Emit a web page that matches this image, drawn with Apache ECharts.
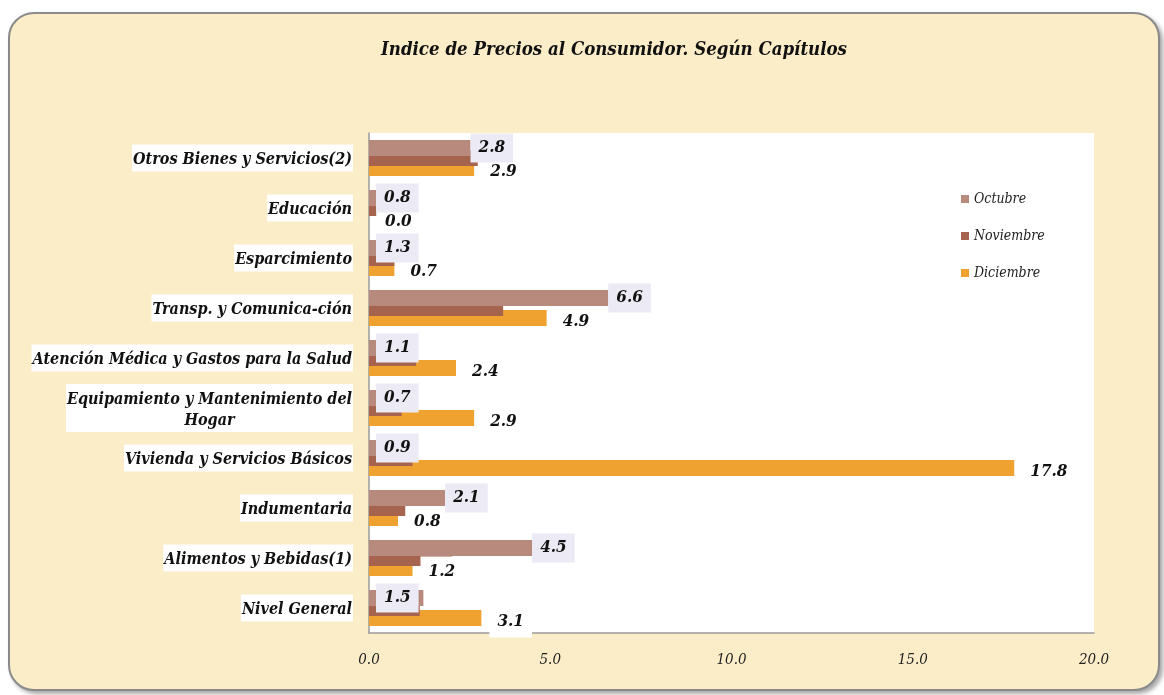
<!doctype html>
<html lang="es">

<head>
    <meta charset="UTF-8" />
    <title>IPC por capítulos</title>
    <style>
        body { margin: 0; background: #fff; }
        #marco {
            position: absolute; left: 8px; top: 12px; width: 1148px; height: 675px;
            background: #FCEDC9; border: 2px solid #8a8a8a; border-radius: 26px;
            box-shadow: 3px 3px 4px rgba(0, 0, 0, 0.35);
        }
        #main { position: absolute; left: 0; top: 0; width: 1164px; height: 695px; }
    </style>
</head>

<body>
    <div id="marco"></div>
    <div id="main"></div>

    <script src="https://cdn.jsdelivr.net/npm/echarts@6/dist/echarts.min.js"></script>
    <script type="text/javascript">
        // datos (de arriba hacia abajo)
        var categorias = ['Otros Bienes y Servicios(2)', 'Educación', 'Esparcimiento', 'Transp. y Comunica-ción',
            'Atención Médica y Gastos para la Salud', 'Equipamiento y Mantenimiento del\nHogar',
            'Vivienda y Servicios Básicos', 'Indumentaria', 'Alimentos y Bebidas(1)', 'Nivel General'];
        var octubre = [2.8, 0.8, 1.3, 6.6, 1.1, 0.7, 0.9, 2.1, 4.5, 1.5];
        var noviembre = [3.0, 0.2, 0.7, 3.7, 1.3, 0.9, 1.2, 1.0, 2.3, 1.4];
        var diciembre = [2.9, 0.0, 0.7, 4.9, 2.4, 2.9, 17.8, 0.8, 1.2, 3.1];
        var ejeX = [0, 5, 10, 15, 20];

        var fuente = '"DejaVu Serif Condensed", "Liberation Serif", serif';
        var chart = echarts.init(document.getElementById('main'));

        // ancho de la primera linea para centrar la segunda (como en el original)
        var ctx = document.createElement('canvas').getContext('2d');
        ctx.font = 'italic bold 16px ' + fuente;
        var anchoLinea = 0;
        categorias.forEach(function (c) {
            var l = c.split('\n');
            if (l.length > 1) anchoLinea = Math.max(anchoLinea, ctx.measureText(l[0]).width);
        });

        var estiloCat = { fontFamily: fuente, fontStyle: 'italic', fontWeight: 'bold', fontSize: 16, color: '#111', lineHeight: 21 };

        var option = {
            animation: false,
            title: {
                text: 'Indice de Precios al Consumidor. Según Capítulos',
                left: 609, top: 36, textAlign: 'center',
                textStyle: { fontFamily: fuente, fontStyle: 'italic', fontWeight: 'bold', fontSize: 18.5, color: '#111' }
            },
            legend: {
                data: ['Octubre', 'Noviembre', 'Diciembre'],
                orient: 'vertical', left: 956, top: 187, itemGap: 23,
                itemWidth: 8, itemHeight: 8, icon: 'rect',
                textStyle: { fontFamily: fuente, fontStyle: 'italic', fontSize: 14, color: '#222' }
            },
            grid: {
                left: 369, top: 133, right: 70, bottom: 62,
                show: true, backgroundColor: '#fff', borderWidth: 0
            },
            xAxis: {
                type: 'value', min: ejeX[0], max: ejeX[ejeX.length - 1], interval: 5,
                splitLine: { show: false },
                axisLine: { show: true, lineStyle: { color: '#9a9a9a', width: 1.5 } },
                axisTick: { show: false },
                axisLabel: {
                    margin: 20, fontFamily: fuente, fontStyle: 'italic', fontSize: 15, color: '#222',
                    formatter: function (v) { return v.toFixed(1); }
                }
            },
            yAxis: {
                type: 'category', inverse: true, data: categorias,
                axisLine: { show: true, lineStyle: { color: '#9a9a9a', width: 1.5 } },
                axisTick: { show: false },
                axisLabel: {
                    margin: 16, align: 'right', backgroundColor: '#fff', padding: [5, 1, 1, 1],
                    formatter: function (v) {
                        var l = v.split('\n');
                        if (l.length === 1) return '{a|' + v + '}';
                        return '{a|' + l[0] + '}\n{b|' + l[1] + '}';
                    },
                    rich: {
                        a: estiloCat,
                        b: Object.assign({ width: anchoLinea, align: 'center' }, estiloCat)
                    }
                }
            },
            series: [{
                name: 'Diciembre', type: 'bar', barWidth: 16, barGap: '-162.5%',
                itemStyle: { color: '#EFA22F' },
                label: {
                    show: true, position: 'right', distance: 8, offset: [0, 4],
                    backgroundColor: '#fff', padding: [7, 8],
                    fontFamily: fuente, fontStyle: 'italic', fontWeight: 'bold', fontSize: 17, color: '#111',
                    formatter: function (p) { return p.value.toFixed(1); }
                },
                data: diciembre
            }, {
                name: 'Noviembre', type: 'bar', barWidth: 16, barGap: '-162.5%',
                itemStyle: { color: '#A6644F' },
                data: noviembre
            }, {
                name: 'Octubre', type: 'bar', barWidth: 16, barGap: '-162.5%',
                itemStyle: { color: '#B88A7D' },
                label: {
                    show: true, position: 'right', distance: 0,
                    backgroundColor: '#ECEAF4', padding: [6, 8],
                    fontFamily: fuente, fontStyle: 'italic', fontWeight: 'bold', fontSize: 17, color: '#111',
                    formatter: function (p) { return p.value.toFixed(1); }
                },
                // etiquetas de valores chicos van pegadas al eje, como en el original
                data: octubre.map(function (v) {
                    return v < 2 ? { value: v, label: { position: [7, '50%'], align: 'left', verticalAlign: 'middle' } } : v;
                })
            }]
        };

        chart.setOption(option);
    </script>
</body>

</html>
